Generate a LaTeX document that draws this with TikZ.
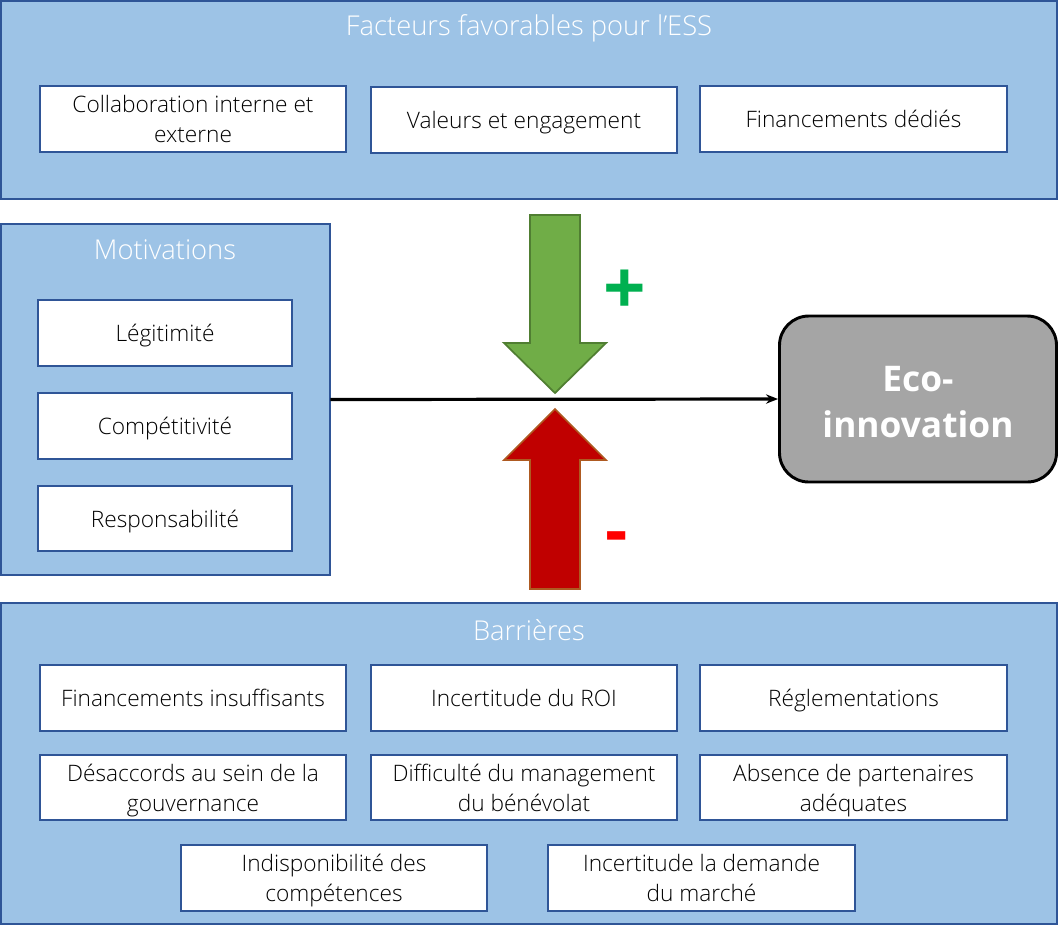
\documentclass[tikz,border=0pt]{standalone}
\usepackage{fontspec}
\setmainfont{Open Sans}[UprightFont=* Light, BoldFont=* Bold]
\usetikzlibrary{arrows.meta}
\definecolor{panelfill}{HTML}{9DC3E6}
\definecolor{panelline}{HTML}{2F5597}
\definecolor{greenfill}{HTML}{70AD47}
\definecolor{greenline}{HTML}{507E32}
\definecolor{redfill}{HTML}{C00000}
\definecolor{redline}{HTML}{AE5A21}
\definecolor{plusgreen}{HTML}{00B050}
\definecolor{ecofill}{HTML}{A5A5A5}
% line strut, centred on the visual middle of the lettering
\newcommand\lnstrut{\rule[-4.5pt]{0pt}{22pt}}
% two-line label with a strut on each line
\newcommand\twolines[2]{\lnstrut #1\\\lnstrut #2}
\begin{document}
\begin{tikzpicture}[x=0.75pt,y=-0.75pt,
  panel/.style={draw=panelline,fill=panelfill,line width=2pt},
  itembox/.style={draw=panelline,fill=white,line width=1.5pt,inner sep=0pt,
    align=center,font=\fontsize{17}{22.5}\selectfont,execute at begin node=\lnstrut},
  paneltitle/.style={text=white,font=\fontsize{20.5}{24}\selectfont,inner sep=0pt},
  bigarrow/.style={line width=1.3pt,line join=miter},
]
\useasboundingbox (0,0) rectangle (1059,926);

% panels
\draw[panel] (1,1) rectangle (1057,199);
\node[paneltitle] (ftitle) at (529,28) {Facteurs favorables pour l’ESS};
\draw[panel] (1,224) rectangle (330,575);
\node[paneltitle] (mtitle) at (165,250) {Motivations};
\node[inner sep=0pt,minimum width=329*0.75pt,minimum height=351*0.75pt] (mot) at (165.5,399.5) {};
\draw[panel] (1,603) rectangle (1057,924);
\node[paneltitle] (btitle) at (529,630) {Barrières};

% favourable factors
\node[itembox,minimum width=306*0.75pt,minimum height=66*0.75pt] (f1) at (193,119) {\twolines{Collaboration interne et}{externe}};
\node[itembox,minimum width=306*0.75pt,minimum height=66*0.75pt] (f2) at (524,119.5) {Valeurs et engagement};
\node[itembox,minimum width=307*0.75pt,minimum height=66*0.75pt] (f3) at (853.5,119) {Financements dédiés};

% motivations
\node[itembox,minimum width=254*0.75pt,minimum height=66*0.75pt] (m1) at (165,333) {Légitimité};
\node[itembox,minimum width=254*0.75pt,minimum height=66*0.75pt] (m2) at (165,426) {Compétitivité};
\node[itembox,minimum width=254*0.75pt,minimum height=65*0.75pt] (m3) at (165,518.5) {Responsabilité};

% barriers
\node[itembox,minimum width=306*0.75pt,minimum height=66*0.75pt] (b1) at (193,698) {Financements insuffisants};
\node[itembox,minimum width=306*0.75pt,minimum height=66*0.75pt] (b2) at (524,698) {Incertitude du ROI};
\node[itembox,minimum width=307*0.75pt,minimum height=66*0.75pt] (b3) at (853.5,698) {Réglementations};
\node[itembox,minimum width=306*0.75pt,minimum height=65*0.75pt] (b4) at (193,787.5) {\twolines{Désaccords au sein de la}{gouvernance}};
\node[itembox,minimum width=306*0.75pt,minimum height=65*0.75pt] (b5) at (524,787.5) {\twolines{Difficulté du management}{du bénévolat}};
\node[itembox,minimum width=307*0.75pt,minimum height=65*0.75pt] (b6) at (853.5,787.5) {\twolines{Absence de partenaires}{adéquates}};
\node[itembox,minimum width=306*0.75pt,minimum height=66*0.75pt] (b7) at (334,878) {\twolines{Indisponibilité des}{compétences}};
\node[itembox,minimum width=307*0.75pt,minimum height=66*0.75pt] (b8) at (701.5,878) {\twolines{Incertitude la demande}{du marché}};

% outcome
\node[draw=black,fill=ecofill,line width=2.2pt,rounded corners=22pt,
  minimum width=277*0.75pt,minimum height=166*0.75pt,align=center,text=white,
  font=\bfseries\fontsize{26.5}{34.5}\selectfont] (eco) at (918,399) {\rule{0pt}{23.5pt}Eco-\\innovation};

% main influence line
\draw[line width=2.4pt,-{Stealth[length=9pt,width=7pt]}] (mot.east) -- (eco.west);

% positive influence arrow
\draw[bigarrow,draw=greenline,fill=greenfill]
  (530,215) -- (580,215) -- (580,343) -- (606,343) -- (555,393) -- (504,343) -- (530,343) -- cycle;
\node[text=plusgreen,font=\bfseries\fontsize{56}{56}\selectfont,inner sep=0pt] (plus) at (624.5,292.5) {+};

% negative influence arrow
\draw[bigarrow,draw=redline,fill=redfill]
  (555,409) -- (606,460) -- (580,460) -- (580,589) -- (530,589) -- (530,460) -- (504,460) -- cycle;
\node[text=red,font=\bfseries\fontsize{52}{52}\selectfont,inner sep=0pt] (minus) at (617,543.5) {-};
\end{tikzpicture}
\end{document}
